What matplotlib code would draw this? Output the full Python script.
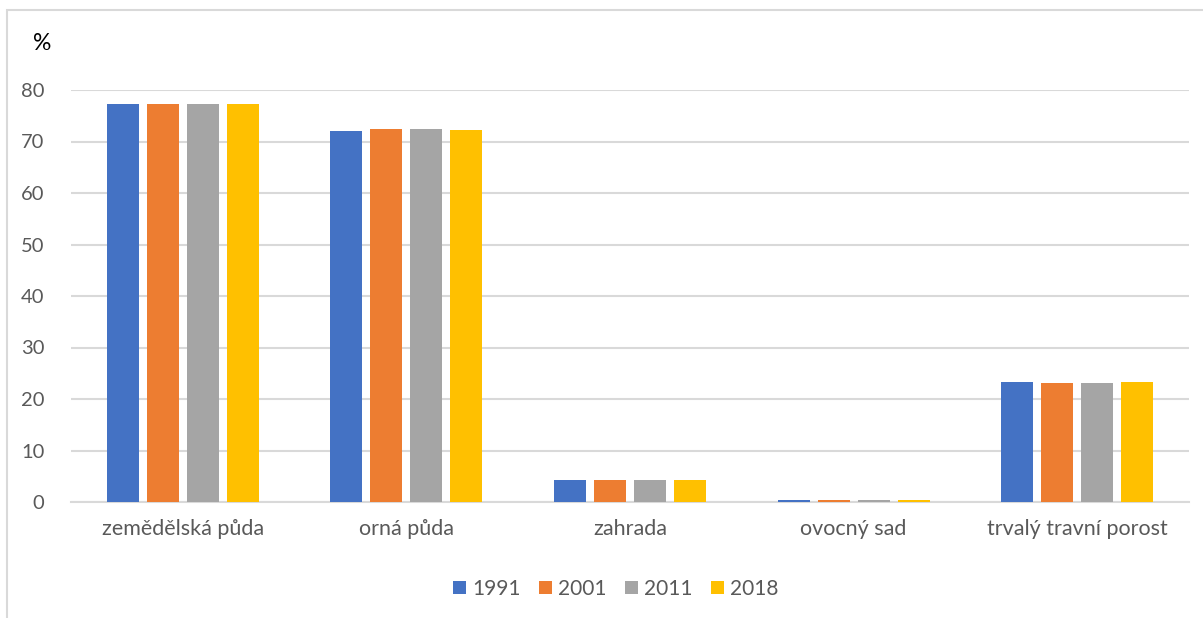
import numpy as np
import matplotlib.pyplot as plt
from matplotlib.patches import Rectangle

categories = ['zemědělská půda', 'orná půda', 'zahrada', 'ovocný sad', 'trvalý travní porost']
years = ['1991', '2001', '2011', '2018']
v1991 = [77.3, 72.0, 4.3, 0.3, 23.3]
v2001 = [77.3, 72.4, 4.3, 0.4, 23.1]
v2011 = [77.3, 72.4, 4.3, 0.3, 23.1]
v2018 = [77.3, 72.2, 4.3, 0.3, 23.3]
series = [v1991, v2001, v2011, v2018]
colors = ['#4472C4', '#ED7D31', '#A5A5A5', '#FFC000']

plt.rcParams['font.family'] = ['Lato', 'DejaVu Sans']

fig = plt.figure(figsize=(12.03, 6.18), dpi=100)
ax = fig.add_axes([71 / 1203, (618 - 502) / 618, (1189 - 71) / 1203, (502 - 90) / 618])

# outer chart frame (partly cut off in the original)
fig.patches.append(Rectangle((7 / 1203, -0.1), 1.2, (618 - 10) / 618 + 0.1,
                             transform=fig.transFigure, fill=False,
                             edgecolor='#d9d9d9', lw=1.5))

x = np.arange(len(categories))
w = 0.143
step = 0.179
for i, (vals, c, y) in enumerate(zip(series, colors, years)):
    ax.bar(x + (i - 1.5) * step, vals, width=w, color=c, label=y, zorder=3)

ax.set_xlim(-0.5, len(categories) - 0.5)
ax.set_ylim(0, 80)
ax.set_yticks(range(0, 81, 10))
ax.yaxis.grid(True, color='#d9d9d9', lw=1.5, zorder=0)
ax.set_xticks(x)
ax.set_xticklabels(categories)
ax.tick_params(axis='both', length=0, colors='#595959')
ax.tick_params(axis='x', pad=12, labelsize=15.5)
ax.tick_params(axis='y', pad=19, labelsize=14.5)
for s in ['top', 'right', 'left']:
    ax.spines[s].set_visible(False)
ax.spines['bottom'].set_color('#d9d9d9')
ax.spines['bottom'].set_linewidth(1.5)

fig.text(42 / 1203, 1 - 43 / 618, '%', fontsize=16.5, ha='center', va='center', color='black')

leg = fig.legend(loc='center', bbox_to_anchor=(616 / 1203, 1 - 589 / 618), ncol=4,
                 frameon=False, fontsize=15, handlelength=0.6, handleheight=0.6,
                 handletextpad=0.3, columnspacing=0.9)
for t in leg.get_texts():
    t.set_color('#595959')

fig.savefig('out.png', dpi=100)
